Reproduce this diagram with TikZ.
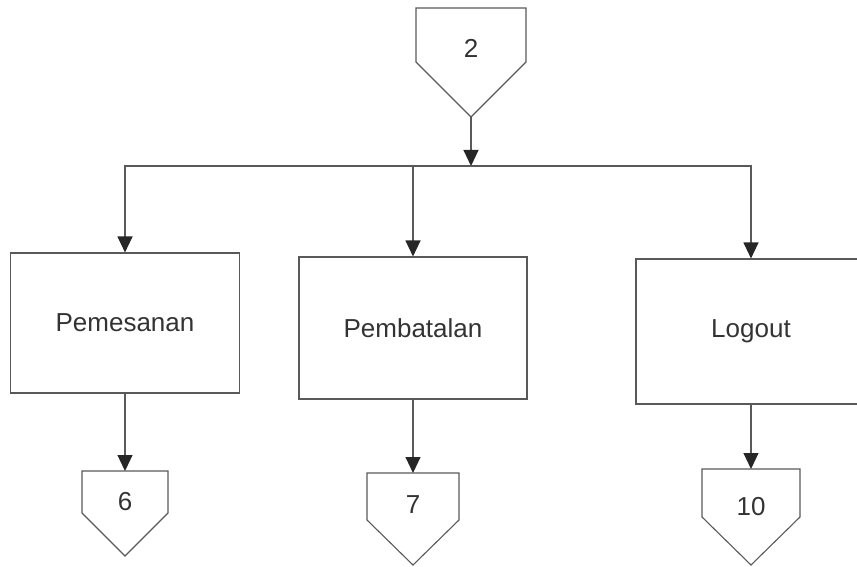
\documentclass[tikz,border=0pt]{standalone}
\usepackage{fontspec}
\setmainfont{Liberation Sans}
\usetikzlibrary{arrows.meta}

\begin{document}
\begin{tikzpicture}[x=1pt, y=-1pt,
    line/.style = {draw=black!65, line width=1.1pt},
    arr/.style = {line, -{Triangle[length=16pt, width=15pt, color=black!85]}},
    process/.style = {line, rectangle, minimum width=229pt, minimum height=140pt,
                      font=\fontsize{26}{30}\selectfont, text=black!80},
    offtext/.style = {inner sep=0pt, font=\fontsize{26}{30}\selectfont, text=black!80}
]

    \clip (0,0) rectangle (857,567);

    % Off-page connector at the top
    \draw[line] (416,62) -- (416,8) -- (526,8) -- (526,62) -- (471,117) -- cycle;
    \node[offtext] (c2) at (471,48) {2};
    \coordinate (c2 tip) at (471,117);
    \coordinate (j) at (471,166);

    % Processes
    \node[process] (pem) at (125,323) {Pemesanan};
    \node[process, minimum width=228pt, minimum height=142pt] (pbt) at (413,328) {Pembatalan};
    \node[process, minimum width=230pt, minimum height=145pt] (log) at (751,331.5) {Logout};

    % Branches
    \draw[arr] (c2 tip) -- (j);
    \draw[arr] (j) -| (pem.north);
    \draw[arr] (j) -| (log.north);
    \draw[arr] (pbt.north |- j) -- (pbt.north);

    % Off-page connectors at the bottom
    \draw[line] (82,513) -- (82,471) -- (168,471) -- (168,513) -- (125,556) -- cycle;
    \node[offtext] (c6) at (125,502) {6};
    \coordinate (c6 top) at (125,471);

    \draw[line] (367,520) -- (367,473) -- (459,473) -- (459,520) -- (413,565) -- cycle;
    \node[offtext] (c7) at (413,505) {7};
    \coordinate (c7 top) at (413,473);

    \draw[line] (702,517) -- (702,469) -- (800,469) -- (800,517) -- (751,565) -- cycle;
    \node[offtext] (c10) at (751,507) {10};
    \coordinate (c10 top) at (751,469);

    \draw[arr] (pem.south) -- (c6 top);
    \draw[arr] (pbt.south) -- (c7 top);
    \draw[arr] (log.south) -- (c10 top);
\end{tikzpicture}
\end{document}
